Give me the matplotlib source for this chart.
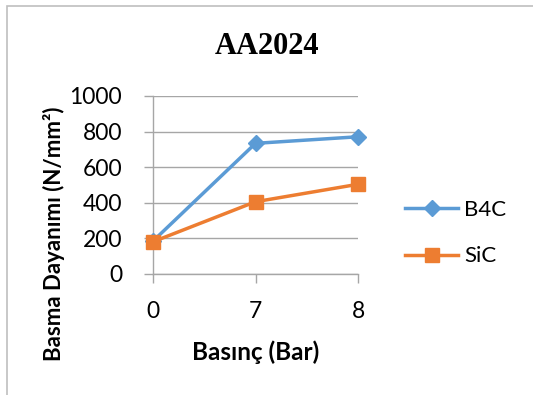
import matplotlib
matplotlib.use("Agg")
import matplotlib.pyplot as plt
from matplotlib.patches import Rectangle
from matplotlib.lines import Line2D

categories = ["0", "7", "8"]
b4c = [185, 734, 771]
sic = [181, 406, 504]
yticks = [0, 200, 400, 600, 800, 1000]

blue = "#5B9BD5"
orange = "#ED7D31"
grid = "#A6A6A6"

fig = plt.figure(figsize=(5.33, 3.95), dpi=100)
fig.patches.append(Rectangle((7/533, -0.1), 1.2, 1 - 6/395 + 0.1, transform=fig.transFigure,
                             fill=False, edgecolor="#BFBFBF", lw=1.2))

ax = fig.add_axes([153/533, 1 - 274/395, 205/533, 178/395])
x = list(range(len(categories)))
ax.plot(x, b4c, color=blue, lw=2.5, marker="D", ms=8.5, clip_on=False, zorder=3)
ax.plot(x, sic, color=orange, lw=2.5, marker="s", ms=10.5, clip_on=False, zorder=4)

ax.set_xlim(0, len(categories) - 1)
ax.set_ylim(0, 1000)
ax.set_xticks(x)
ax.set_xticklabels(categories)
ax.set_yticks(yticks)
ax.grid(axis="y", color=grid, lw=1)
ax.set_axisbelow(True)
for s in ["top", "right"]:
    ax.spines[s].set_visible(False)
for s in ["left", "bottom"]:
    ax.spines[s].set_color(grid)
    ax.spines[s].set_linewidth(1)
ax.tick_params(axis="both", colors=grid, length=6.2, width=1, labelcolor="black",
               labelsize=16.5)
ax.tick_params(axis="y", pad=16)
ax.tick_params(axis="x", pad=13)
for lab in ax.get_xticklabels() + ax.get_yticklabels():
    lab.set_fontfamily("Lato")

ax.set_xlabel("Basınç (Bar)", fontsize=17.5, fontweight="bold", family="Lato")
ax.xaxis.set_label_coords(256/533, 1 - 340/395, transform=fig.transFigure)
ax.set_ylabel("Basma Dayanımı (N/mm²)", fontsize=16, fontweight="bold", family="Lato")
ax.yaxis.set_label_coords(65/533, 1 - 234/395, transform=fig.transFigure)

fig.text(267/533, 1 - 47/395, "AA2024", ha="center", va="center", fontsize=22,
         fontweight="bold", family="Liberation Serif")

handles = [Line2D([], [], color=blue, lw=2.5, marker="D", ms=8.5),
           Line2D([], [], color=orange, lw=2.5, marker="s", ms=10.5)]
fig.legend(handles, ["B4C", "SiC"], loc="center left", bbox_to_anchor=(385/533, 1 - 233/395),
           frameon=False, prop={"family": "Lato", "size": 16}, handlelength=2.4,
           handletextpad=0.25, labelspacing=1.2)

fig.savefig("out.png", dpi=100)
